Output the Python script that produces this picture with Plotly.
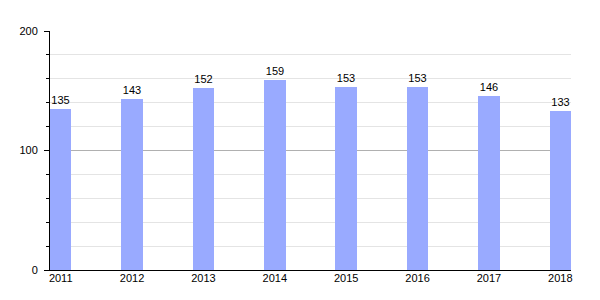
import plotly.graph_objects as go

years = [2011, 2012, 2013, 2014, 2015, 2016, 2017, 2018]
values = [135, 143, 152, 159, 153, 153, 146, 133]
year_labels = [str(y) for y in years]
y_ticks = [0, 100, 200]

fig = go.Figure(go.Bar(
    x=years, y=values, width=0.3,
    marker=dict(color="#99aaff", line=dict(width=0)),
    text=[str(v) for v in values], textposition="outside",
    textfont=dict(color="black", size=11, family="Liberation Sans, Arial, sans-serif"),
    cliponaxis=False,
))

fig.update_layout(
    width=600, height=300,
    margin=dict(l=50, r=29, t=31, b=30),
    plot_bgcolor="white", paper_bgcolor="white",
    font=dict(family="Liberation Sans, Arial, sans-serif", size=11, color="black"),
    showlegend=False,
    bargap=0,
)
fig.update_xaxes(
    range=[2011 - 0.15, 2018 + 0.15],
    tickvals=years, ticktext=year_labels,
    tickfont=dict(color="black"),
    showgrid=False, showline=True, linecolor="black", linewidth=1,
    ticks="", zeroline=False, ticklabelstandoff=-2,
)
fig.update_yaxes(
    range=[0, 200], tickvals=y_ticks,
    tickfont=dict(color="black"),
    showgrid=True, gridcolor="#b0b0b0", gridwidth=1,
    showline=True, linecolor="black", linewidth=1,
    ticks="outside", ticklen=5, tickcolor="black",
    zeroline=False, ticklabelstandoff=4,
    minor=dict(dtick=20, showgrid=True, gridcolor="#e4e4e4", ticks="outside", ticklen=3, tickcolor="black"),
)

fig.write_html("out.html")
